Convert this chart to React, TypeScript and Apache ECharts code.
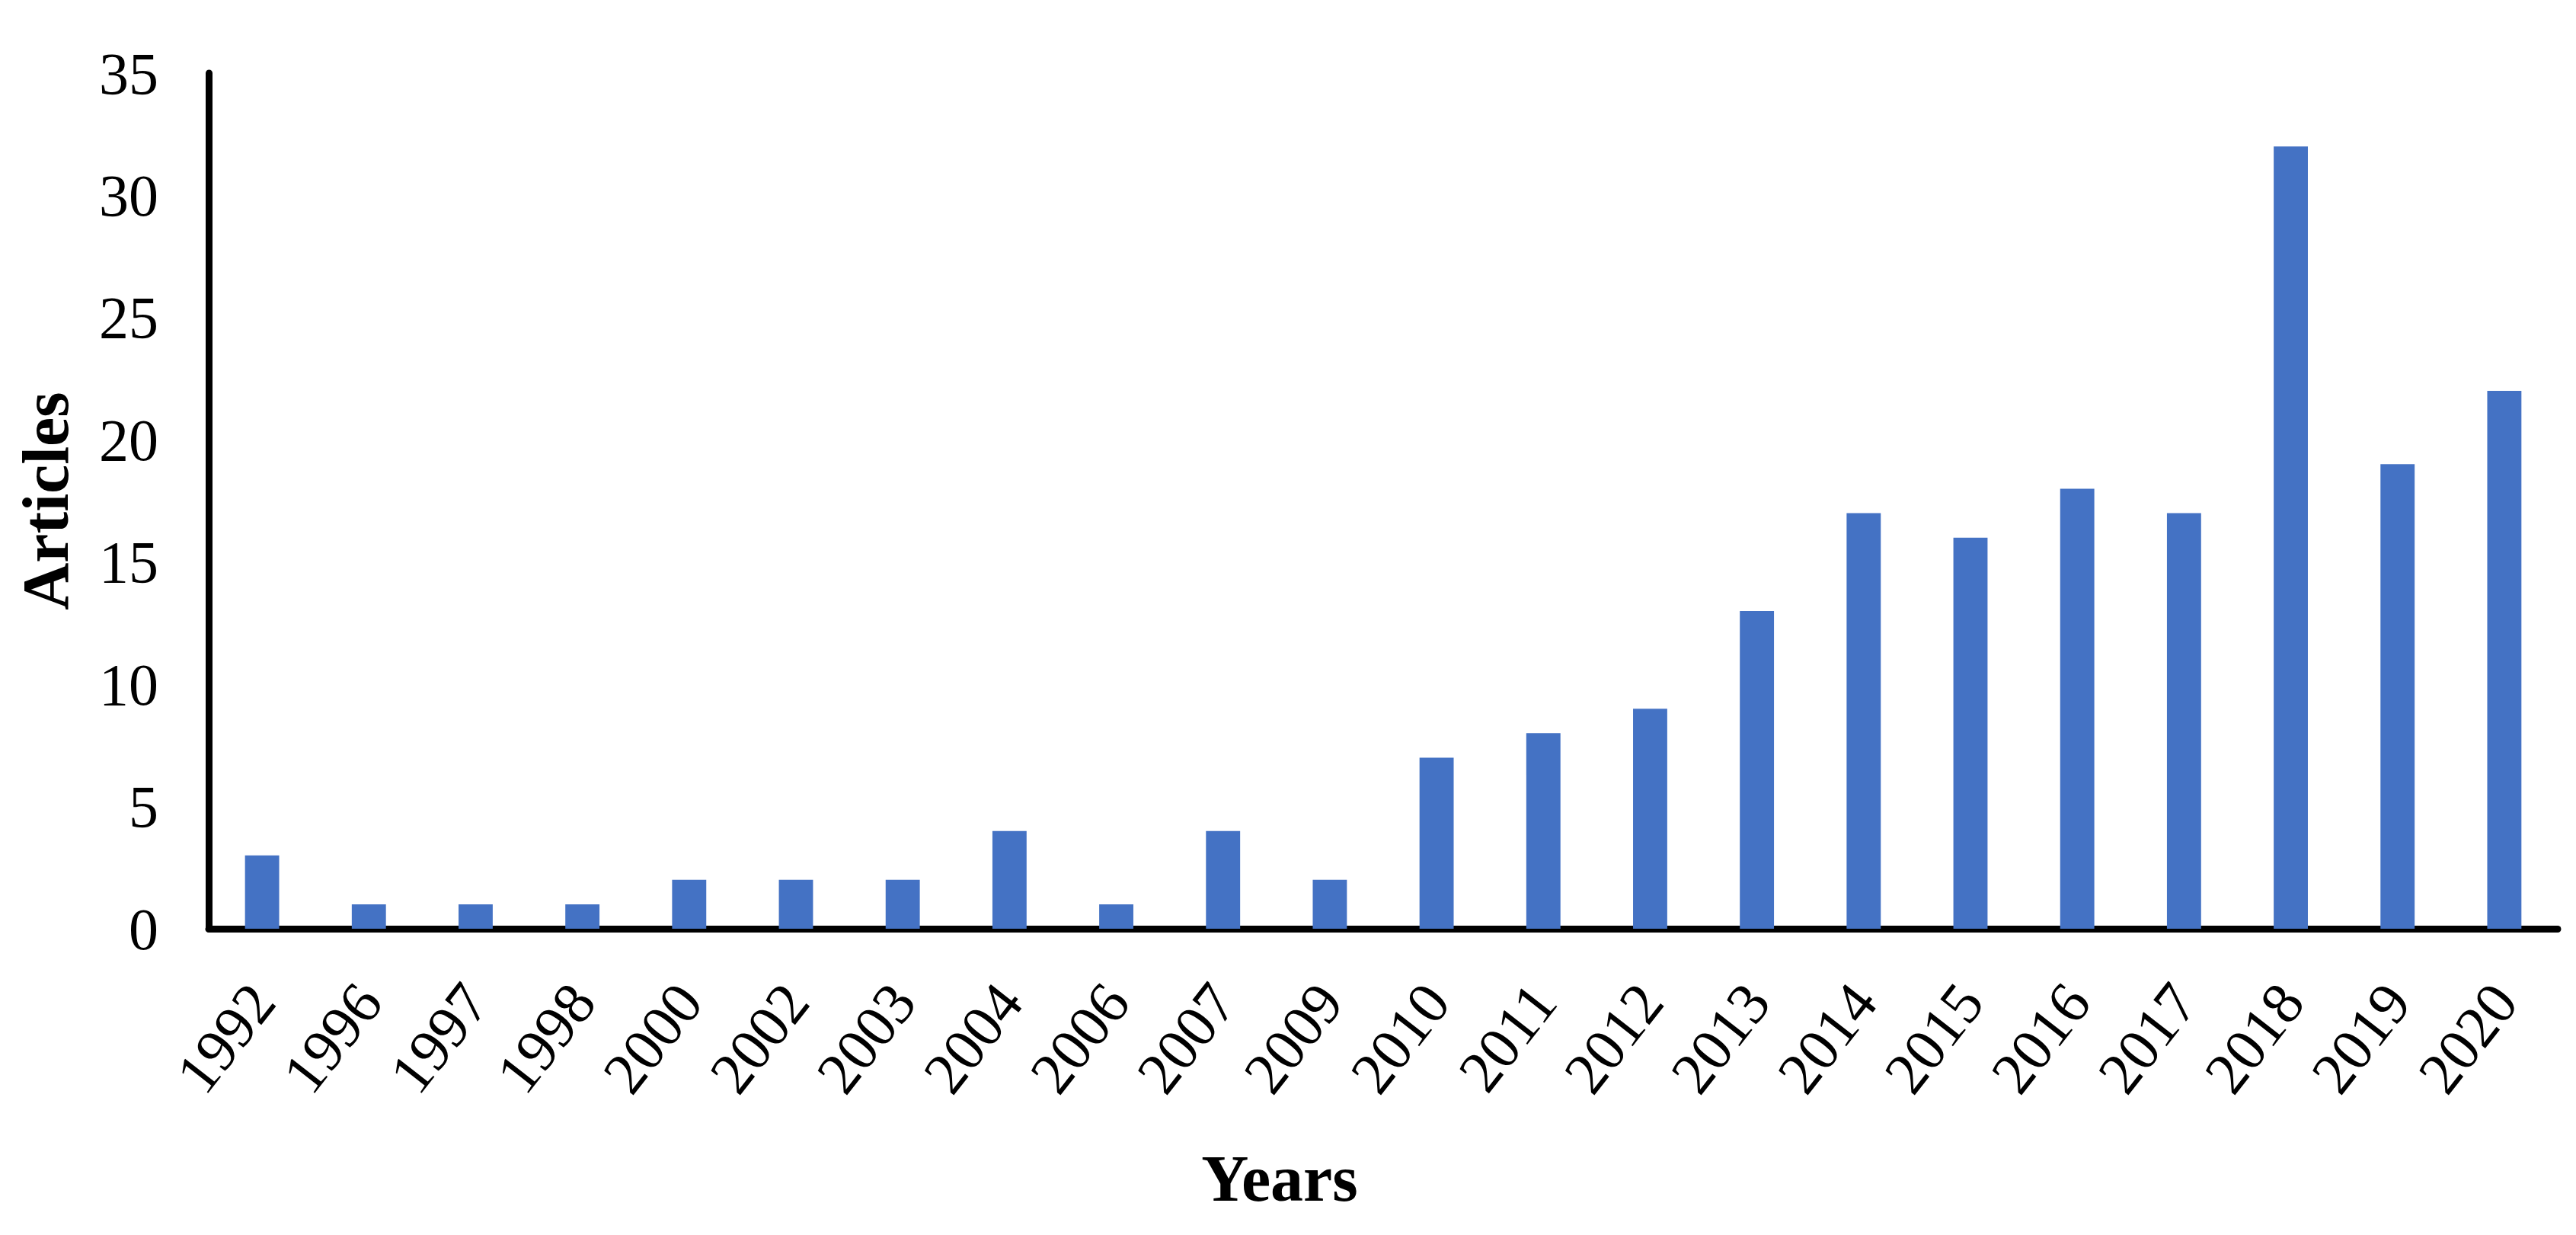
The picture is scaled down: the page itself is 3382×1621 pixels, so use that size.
import React, { useEffect, useRef } from "react";
import * as echarts from "echarts";

const years = ["1992","1996","1997","1998","2000","2002","2003","2004","2006","2007","2009","2010","2011","2012","2013","2014","2015","2016","2017","2018","2019","2020"];
const articles = [3,1,1,1,2,2,2,4,1,4,2,7,8,9,13,17,16,18,17,32,19,22];
const yTicks = { min: 0, max: 35, interval: 5 };

const FONT = "'Times New Roman', 'Liberation Serif', serif";

export default function App() {
  const ref = useRef<HTMLDivElement>(null);
  useEffect(() => {
    if (!ref.current) return;
    const chart = echarts.init(ref.current, null, { renderer: "svg" });
    chart.setOption({
      animation: false,
      backgroundColor: "#ffffff",
      grid: { left: 274, right: 24, top: 96, bottom: 402, containLabel: false },
      xAxis: {
        type: "category",
        data: years,
        name: "Years",
        nameLocation: "middle",
        nameGap: 285,
        nameTextStyle: { fontFamily: FONT, fontSize: 86, fontWeight: "bold", color: "#000", padding: [0, 272, 0, 0] },
        axisLine: { lineStyle: { color: "#000", width: 9 } },
        axisTick: { show: false },
        axisLabel: { rotate: 52, fontFamily: FONT, fontSize: 78, color: "#000", margin: 82, interval: 0 },
      },
      yAxis: {
        type: "value",
        min: yTicks.min,
        max: yTicks.max,
        interval: yTicks.interval,
        name: "Articles",
        nameLocation: "middle",
        nameGap: 171,
        nameTextStyle: { fontFamily: FONT, fontSize: 86, fontWeight: "bold", color: "#000" },
        axisLine: { show: true, lineStyle: { color: "#000", width: 9 } },
        axisTick: { show: false },
        splitLine: { show: false },
        axisLabel: { fontFamily: FONT, fontSize: 78, color: "#000", margin: 66 },
      },
      series: [
        {
          type: "bar",
          data: articles,
          barWidth: "32%",
          itemStyle: { color: "#4472C4" },
        },
      ],
    });
    return () => chart.dispose();
  }, []);
  return <div ref={ref} style={{ position: "fixed", left: 0, top: 0, width: 3382, height: 1621 }} />;
}
